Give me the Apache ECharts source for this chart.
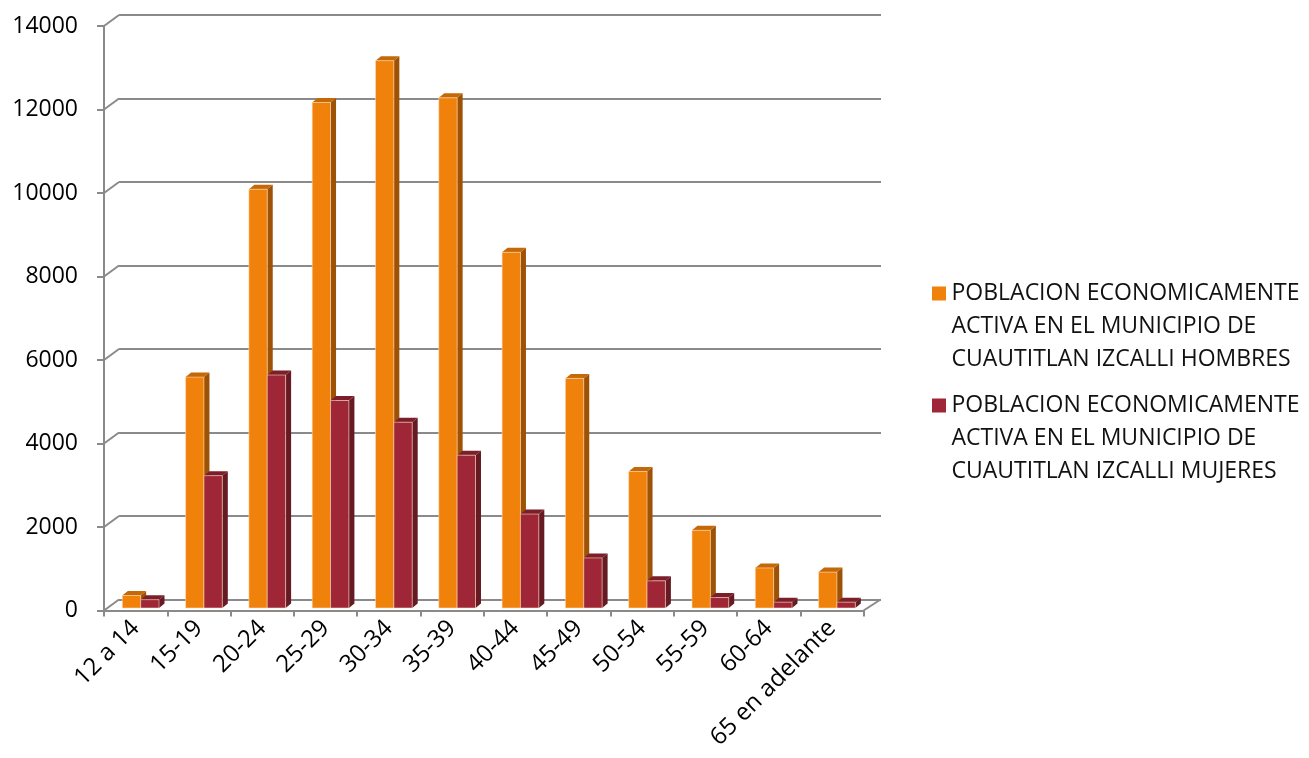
<!DOCTYPE html>
<html>
<head>
<meta charset="utf-8">
<script src="https://cdn.jsdelivr.net/npm/echarts@6/dist/echarts.min.js"></script>
<style>
  html, body { margin: 0; padding: 0; background: #fff; }
  #chart { width: 1309px; height: 758px; }
</style>
</head>
<body>
<div id="chart"></div>
<script>
// datos
const categories = ['12 a 14', '15-19', '20-24', '25-29', '30-34', '35-39', '40-44', '45-49', '50-54', '55-59', '60-64', '65 en adelante'];
const hombres = [300, 5530, 10030, 12110, 13110, 12220, 8520, 5500, 3270, 1860, 960, 860];
const mujeres = [200, 3170, 5580, 4970, 4450, 3660, 2250, 1200, 650, 250, 140, 140];
const yTicks = [0, 2000, 4000, 6000, 8000, 10000, 12000, 14000];

const nameH = 'POBLACION ECONOMICAMENTE\nACTIVA EN EL MUNICIPIO DE\nCUAUTITLAN IZCALLI HOMBRES';
const nameM = 'POBLACION ECONOMICAMENTE\nACTIVA EN EL MUNICIPIO DE\nCUAUTITLAN IZCALLI MUJERES';

const grayLine = '#8a8a8a';
const font = 'Open Sans';

// falso 3D: desplazamiento de la pared del fondo
const wallDx = 15, wallDxR = 17, wallDy = -11;

// cuadrito de leyenda alineado con la primera linea (texto de 3 lineas)
const legendIcon = 'path://M0,9.5H14V23.5H0Z M0,0H0.01V0.01H0Z M0,99H0.01V99.01H0Z';

function bar3d(colors, left) {
  return function (params, api) {
    const idx = api.value(0);
    const v = api.value(1);
    const base = api.coord([idx, 0]);
    const top = api.coord([idx, v]);
    const cw = api.size([1, 0])[0];
    const bw = cw * 0.29;
    const x0 = base[0] + 5 + (left ? -bw : 0);
    const y0 = base[1] - 2.5;
    const y1 = top[1] - 2.5;
    const dx = 5.5, dy = -4.5;
    return {
      type: 'group',
      children: [
        {
          type: 'polygon',
          shape: { points: [[x0 + bw, y0], [x0 + bw + dx, y0 + dy], [x0 + bw + dx, y1 + dy], [x0 + bw, y1]] },
          style: { fill: colors[1] }
        },
        {
          type: 'polygon',
          shape: { points: [[x0, y1], [x0 + dx, y1 + dy], [x0 + bw + dx, y1 + dy], [x0 + bw, y1]] },
          style: { fill: colors[2] }
        },
        {
          type: 'rect',
          shape: { x: x0, y: y1, width: bw, height: y0 - y1 },
          style: { fill: colors[0], stroke: 'rgba(255,225,190,0.7)', lineWidth: 0.8 }
        }
      ]
    };
  };
}

const chart = echarts.init(document.getElementById('chart'));
chart.setOption({
  backgroundColor: '#ffffff',
  animation: false,
  textStyle: { fontFamily: font },
  legend: {
    data: [nameH, nameM],
    orient: 'vertical',
    left: 932, top: 277, padding: 0, itemGap: 13,
    icon: legendIcon, itemWidth: 15, itemHeight: 99,
    textStyle: { fontSize: 23, color: '#111', lineHeight: 33 }
  },
  grid: [
    // pared del fondo
    { left: 119, right: 428, top: 15, bottom: 158.5 },
    // plano frontal
    { left: 104, right: 445.4, top: 26, bottom: 147.5 }
  ],
  xAxis: [
    { gridIndex: 0, type: 'category', data: categories, show: false },
    {
      gridIndex: 1, type: 'category', data: categories,
      axisLine: { lineStyle: { color: grayLine, width: 2 } },
      axisTick: { show: true, length: 6, lineStyle: { color: grayLine, width: 2 } },
      axisLabel: { rotate: 45, fontSize: 24, color: '#000', margin: 14, interval: 0 }
    }
  ],
  yAxis: [
    {
      gridIndex: 0, type: 'value', min: 0, max: 14000, interval: 2000,
      axisLine: { show: false }, axisTick: { show: false }, axisLabel: { show: false },
      splitLine: { lineStyle: { color: grayLine, width: 2 } }
    },
    {
      gridIndex: 1, type: 'value', min: 0, max: 14000, interval: 2000,
      axisLine: { show: true, lineStyle: { color: grayLine, width: 2 } },
      axisTick: { show: true, length: 7, lineStyle: { color: grayLine, width: 2 } },
      axisLabel: { fontSize: 23, color: '#000', margin: 26, formatter: v => String(v) },
      splitLine: { show: false }
    }
  ],
  series: [
    {
      // uniones entre el eje frontal y la pared
      type: 'custom',
      xAxisIndex: 1, yAxisIndex: 1,
      silent: true,
      z: 1,
      data: yTicks.map(v => [0, v]),
      renderItem: function (params, api) {
        const v = api.value(1);
        const y = api.coord([0, v])[1];
        const cs = params.coordSys;
        const children = [{
          type: 'line',
          shape: { x1: cs.x, y1: y, x2: cs.x + wallDx, y2: y + wallDy },
          style: { stroke: grayLine, lineWidth: 2 }
        }];
        if (v === 0) {
          children.push({
            type: 'line',
            shape: { x1: cs.x + cs.width, y1: y, x2: cs.x + cs.width + wallDxR, y2: y + wallDy },
            style: { stroke: grayLine, lineWidth: 2 }
          });
        }
        return { type: 'group', children: children };
      }
    },
    {
      name: nameH,
      type: 'custom',
      xAxisIndex: 1, yAxisIndex: 1,
      z: 5,
      itemStyle: { color: '#F0820B' },
      data: hombres.map((v, i) => [i, v]),
      encode: { x: 0, y: 1 },
      renderItem: bar3d(['#F0820B', '#9E5206', '#C46808'], true)
    },
    {
      name: nameM,
      type: 'custom',
      xAxisIndex: 1, yAxisIndex: 1,
      z: 5,
      itemStyle: { color: '#9E2636' },
      data: mujeres.map((v, i) => [i, v]),
      encode: { x: 0, y: 1 },
      renderItem: bar3d(['#9E2636', '#661A23', '#7B1F2B'], false)
    }
  ]
});
</script>
</body>
</html>
